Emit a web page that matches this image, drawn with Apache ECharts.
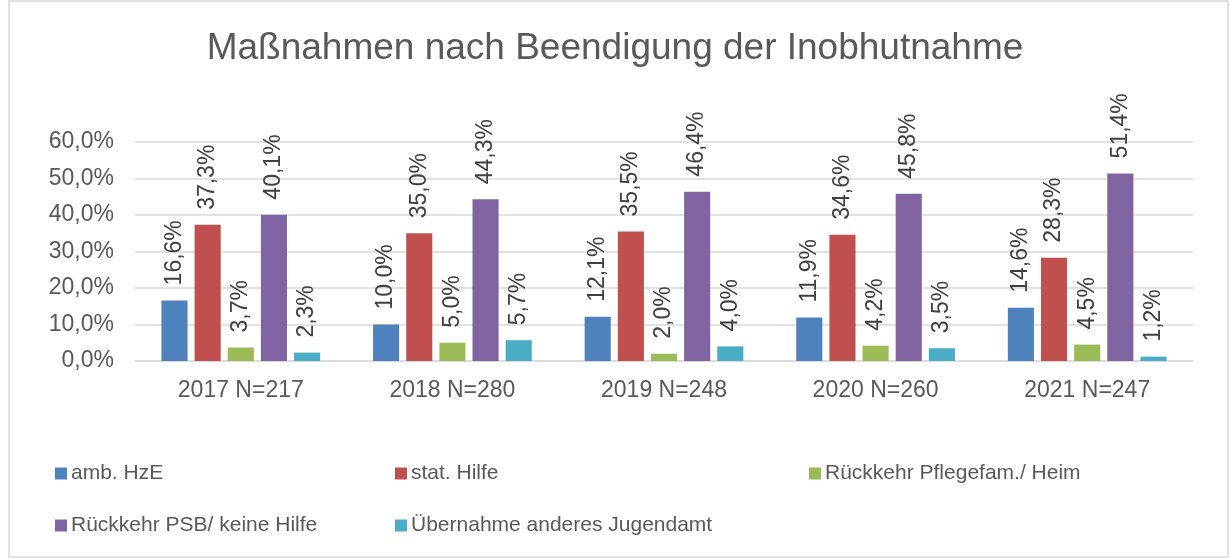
<!DOCTYPE html>
<html>
<head>
<meta charset="utf-8">
<script src="https://cdn.jsdelivr.net/npm/echarts@6/dist/echarts.min.js"></script>
<style>
html,body{margin:0;padding:0;background:#fff;}
#main{width:1230px;height:559px;}
</style>
</head>
<body>
<div id="main"></div>
<script>
var categories = ['2017 N=217', '2018 N=280', '2019 N=248', '2020 N=260', '2021 N=247'];
var seriesNames = ['amb. HzE', 'stat. Hilfe', 'Rückkehr Pflegefam./ Heim', 'Rückkehr PSB/ keine Hilfe', 'Übernahme anderes Jugendamt'];
var ambHzE = [16.6, 10.0, 12.1, 11.9, 14.6];
var statHilfe = [37.3, 35.0, 35.5, 34.6, 28.3];
var pflegefam = [3.7, 5.0, 2.0, 4.2, 4.5];
var psbKeine = [40.1, 44.3, 46.4, 45.8, 51.4];
var uebernahme = [2.3, 5.7, 4.0, 3.5, 1.2];
var colors = ['#4F81BD', '#C0504D', '#9BBB59', '#8064A2', '#4BACC6'];

var allData = [ambHzE, statHilfe, pflegefam, psbKeine, uebernahme];
var font = '"Liberation Sans", Arial, sans-serif';

function pct(v) {
	return v.toFixed(1).replace('.', ',') + '%';
}

var chart = echarts.init(document.getElementById('main'));

// legend laid out like excel: 3 columns, 2 rows
var legendPos = [[50, 458], [390, 458], [804, 458], [50, 510], [390, 510]];
var legends = seriesNames.map(function (n, i) {
	return {
		data: [n],
		left: legendPos[i][0],
		top: legendPos[i][1],
		icon: 'rect',
		itemWidth: 12,
		itemHeight: 12,
		itemGap: 4,
		textStyle: { color: '#595959', fontSize: 21, fontFamily: font, padding: [0, 0, 0, -1] }
	};
});

var series = seriesNames.map(function (n, i) {
	return {
		name: n,
		type: 'bar',
		data: allData[i],
		itemStyle: { color: colors[i] },
		barGap: '27%',
		barCategoryGap: '25%',
		label: {
			show: true,
			position: 'top',
			rotate: 90,
			align: 'left',
			verticalAlign: 'middle',
			distance: 15,
			color: '#404040',
			fontSize: 23,
			fontFamily: font,
			formatter: function (p) { return pct(p.value); }
		}
	};
});

chart.setOption({
	animation: false,
	textStyle: { fontFamily: font },
	title: {
		text: 'Maßnahmen nach Beendigung der Inobhutnahme',
		left: 'center',
		top: 25,
		textStyle: { color: '#595959', fontSize: 37, fontWeight: 'normal', fontFamily: font }
	},
	graphic: [{
		type: 'rect',
		shape: { x: 9, y: 1, width: 1219, height: 556 },
		style: { fill: 'none', stroke: '#d9d9d9', lineWidth: 1.5 },
		silent: true
	}],
	legend: legends,
	grid: { left: 135, right: 37, top: 142, bottom: 198 },
	xAxis: {
		type: 'category',
		data: categories,
		axisTick: { show: false },
		axisLine: { lineStyle: { color: '#d9d9d9', width: 1.5 } },
		axisLabel: { color: '#595959', fontSize: 23, fontFamily: font, margin: 18 }
	},
	yAxis: {
		type: 'value',
		min: 0,
		max: 60,
		interval: 10,
		axisLabel: {
			color: '#595959', fontSize: 23, fontFamily: font, margin: 21,
			formatter: function (v) { return pct(v); }
		},
		splitLine: { lineStyle: { color: '#d9d9d9', width: 1.5 } },
		axisLine: { show: false },
		axisTick: { show: false }
	},
	series: series
});
</script>
</body>
</html>
